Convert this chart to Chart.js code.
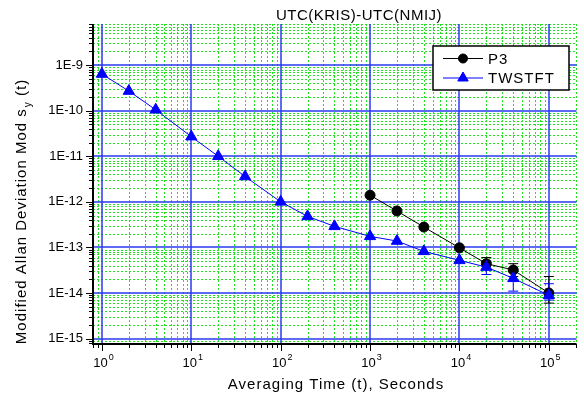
<!DOCTYPE html>
<html>
<head>
<meta charset="utf-8">
<script src="https://cdn.jsdelivr.net/npm/chart.js@4.4.0/dist/chart.umd.min.js"></script>
<style>
body{margin:0;background:#fff;}
#caja{width:584px;height:398px;position:relative;}
</style>
</head>
<body>
<div id="caja"><canvas id="grafica"></canvas></div>
<script>
//datos
const tiempoTW=[1,2,4,10,20,40,100,200,400,1000,2000,4000,10000,20000,40000,100000];
const desvTW=[6.4e-10,2.7e-10,1.05e-10,2.7e-11,1.0e-11,3.6e-12,1.0e-12,4.8e-13,2.9e-13,1.75e-13,1.38e-13,8.2e-14,5.2e-14,3.7e-14,2.1e-14,8.9e-15];
const tiempoP3=[1000,2000,4000,10000,20000,40000,100000];
const desvP3=[1.4e-12,6.3e-13,2.8e-13,9.8e-14,4.4e-14,3.2e-14,1.0e-14];
//barras de error (alto/bajo), null = sin barra
const errAltoP3=[null,null,null,null,6.0e-14,4.4e-14,2.3e-14];
const errBajoP3=[null,null,null,null,3.3e-14,2.3e-14,0.6e-14];
const errAltoTW=[null,null,null,null,null,null,null,null,null,null,null,null,null,5.0e-14,3.0e-14,1.6e-14];
const errBajoTW=[null,null,null,null,null,null,null,null,null,null,null,null,null,2.55e-14,1.1e-14,0.7e-14];
//etiquetas de ejes
const decadasX=[1,10,100,1000,10000,100000];
const exponentesX=['0','1','2','3','4','5'];
const decadasY=[1e-9,1e-10,1e-11,1e-12,1e-13,1e-14,1e-15];
const etiquetasY=['1E-9','1E-10','1E-11','1E-12','1E-13','1E-14','1E-15'];

const azul='#0000ff';
const verde='#22e022';
const azulGrid='#2a3af0';
const fuente='"Liberation Sans", Arial, sans-serif';

function esDecada(v){
  const l=Math.log10(v);
  return Math.abs(l-Math.round(l))<1e-6;
}
//ticks menores 1..9 por decada
function menores(desde,hasta,min,max){
  let v=[];
  for(let e=desde;e<=hasta;e++){
    for(let m=1;m<10;m++){
      const t=m*Math.pow(10,e);
      if(t>=min*0.9999 && t<=max*1.0001) v.push(t);
    }
  }
  return v;
}
const xMin=0.795, xMax=2.04e5, yMin=7.6e-16, yMax=8e-9;

function linea(ctx,x1,y1,x2,y2){
  ctx.beginPath();ctx.moveTo(x1,y1);ctx.lineTo(x2,y2);ctx.stroke();
}

const dibujo={
  id:'dibujo',
  beforeDatasetsDraw(chart){
    const {ctx,chartArea:a,scales:{x,y}}=chart;
    ctx.save();
    //rejilla menor
    ctx.lineWidth=1;ctx.strokeStyle=verde;ctx.setLineDash([2,2]);
    x.ticks.forEach(t=>{
      if(!esDecada(t.value)){const p=Math.round(x.getPixelForValue(t.value))+0.5;linea(ctx,p,a.top,p,a.bottom);}
    });
    y.ticks.forEach(t=>{
      if(!esDecada(t.value)){const p=Math.round(y.getPixelForValue(t.value))+0.5;linea(ctx,a.left,p,a.right,p);}
    });
    //rejilla mayor
    ctx.setLineDash([]);ctx.strokeStyle=azulGrid;ctx.lineWidth=1.5;
    decadasX.forEach(v=>{const p=Math.round(x.getPixelForValue(v));linea(ctx,p,a.top,p,a.bottom);});
    decadasY.forEach(v=>{const p=Math.round(y.getPixelForValue(v));linea(ctx,a.left,p,a.right,p);});
    //barras de error
    ctx.lineWidth=1;
    const barras=(tiempos,alto,bajo,color)=>{
      ctx.strokeStyle=color;
      tiempos.forEach((t,i)=>{
        if(alto[i]==null) return;
        const px=x.getPixelForValue(t);
        const y1=y.getPixelForValue(alto[i]), y2=y.getPixelForValue(bajo[i]);
        linea(ctx,px,y1,px,y2);
        linea(ctx,px-5,y1,px+5,y1);
        linea(ctx,px-5,y2,px+5,y2);
      });
    };
    barras(tiempoP3,errAltoP3,errBajoP3,'#000');
    barras(tiempoTW,errAltoTW,errBajoTW,azul);
    ctx.restore();
  },
  afterDraw(chart){
    const {ctx,chartArea:a,scales:{x,y}}=chart;
    ctx.save();
    //ejes
    ctx.strokeStyle='#000';ctx.lineWidth=2;
    linea(ctx,a.left,a.top,a.left,a.bottom+1);
    linea(ctx,a.left-1,a.bottom,a.right,a.bottom);
    ctx.lineWidth=1;
    y.ticks.forEach(t=>{
      const p=Math.round(y.getPixelForValue(t.value))+0.5;
      linea(ctx,a.left,p,a.left-(esDecada(t.value)?7:4),p);
    });
    x.ticks.forEach(t=>{
      const p=Math.round(x.getPixelForValue(t.value))+0.5;
      linea(ctx,p,a.bottom,p,a.bottom+(esDecada(t.value)?7:4));
    });
    //etiquetas X con exponente
    ctx.fillStyle='#000';ctx.textBaseline='alphabetic';
    decadasX.forEach((v,i)=>{
      const p=x.getPixelForValue(v);
      ctx.font='13px '+fuente;
      const w1=ctx.measureText('10').width;
      ctx.font='9px '+fuente;
      const w2=ctx.measureText(exponentesX[i]).width;
      const x0=p-(w1+w2)/2+1;
      ctx.font='13px '+fuente;ctx.textAlign='left';
      ctx.fillText('10',x0,367);
      ctx.font='9px '+fuente;
      ctx.fillText(exponentesX[i],x0+w1+1,360);
    });
    //titulo
    ctx.font='15px '+fuente;ctx.textAlign='center';ctx.textBaseline='middle';
    ctx.letterSpacing='0.5px';
    ctx.fillText('UTC(KRIS)-UTC(NMIJ)',359,16);
    //titulo X
    ctx.letterSpacing='1px';
    ctx.fillText('Averaging Time (t), Seconds',336,385);
    //titulo Y con subindice
    ctx.save();
    ctx.translate(22,212);ctx.rotate(-Math.PI/2);
    const t1='Modified Allan Deviation Mod s', t2='y', t3=' (t)';
    ctx.font='15px '+fuente;const w1=ctx.measureText(t1).width;const w3=ctx.measureText(t3).width;
    ctx.font='10px '+fuente;const w2=ctx.measureText(t2).width;
    let x0=-(w1+w2+w3)/2;
    ctx.textAlign='left';
    ctx.font='15px '+fuente;ctx.fillText(t1,x0,0);
    ctx.font='10px '+fuente;ctx.fillText(t2,x0+w1+1,6);
    ctx.font='15px '+fuente;ctx.fillText(t3,x0+w1+w2+1,0);
    ctx.restore();
    //leyenda
    ctx.letterSpacing='0px';
    ctx.fillStyle='#fff';ctx.fillRect(433,46,136,44);
    ctx.strokeStyle='#000';ctx.lineWidth=1.5;ctx.strokeRect(433,46,136,44);
    const filas=[
      {txt:chart.data.datasets[1].label,color:'#000',forma:'circle',y:58.5},
      {txt:chart.data.datasets[0].label,color:azul,forma:'triangle',y:78}
    ];
    filas.forEach(f=>{
      ctx.strokeStyle=f.color;ctx.lineWidth=1;
      linea(ctx,443,f.y,483,f.y);
      ctx.fillStyle=f.color;
      Chart.helpers.drawPoint(ctx,{pointStyle:f.forma,radius:f.forma=='circle'?4.5:6,borderWidth:1},463,f.y);
      ctx.fillStyle='#000';ctx.font='15px '+fuente;ctx.textAlign='left';ctx.textBaseline='middle';
      ctx.letterSpacing='1px';
      ctx.fillText(f.txt,488,f.y+1);
      ctx.letterSpacing='0px';
    });
    ctx.restore();
  }
};

const chart=new Chart(document.getElementById('grafica'),{
  type:'line',
  data:{
    datasets:[
      {label:'TWSTFT',data:tiempoTW.map((t,i)=>({x:t,y:desvTW[i]})),borderColor:azul,backgroundColor:azul,
        borderWidth:1,pointStyle:'triangle',pointRadius:6.5,pointBorderWidth:1,tension:0,order:0},
      {label:'P3',data:tiempoP3.map((t,i)=>({x:t,y:desvP3[i]})),borderColor:'#000',backgroundColor:'#000',
        borderWidth:1,pointStyle:'circle',pointRadius:5,pointBorderWidth:1,tension:0,order:1}
    ]
  },
  options:{
    responsive:true,maintainAspectRatio:false,animation:false,
    layout:{padding:{top:24,right:3,left:0,bottom:0}},
    plugins:{legend:{display:false},tooltip:{enabled:false},title:{display:false}},
    scales:{
      x:{type:'logarithmic',min:xMin,max:xMax,
        afterBuildTicks:s=>{s.ticks=menores(-1,5,xMin,xMax).map(v=>({value:v}));},
        afterFit:s=>{s.height=54;},
        ticks:{display:false},
        grid:{display:false},border:{display:false}},
      y:{type:'logarithmic',min:yMin,max:yMax,
        afterBuildTicks:s=>{s.ticks=menores(-16,-9,yMin,yMax).map(v=>({value:v}));},
        afterFit:s=>{s.width=93;},
        ticks:{autoSkip:false,padding:10,color:'#000',font:{family:fuente,size:13},
          callback:function(v){const i=decadasY.findIndex(d=>Math.abs(d-v)/d<1e-6);return i>=0?etiquetasY[i]:'';}},
        grid:{display:false,drawTicks:false},border:{display:false}}
    }
  },
  plugins:[dibujo]
});
</script>
</body>
</html>
